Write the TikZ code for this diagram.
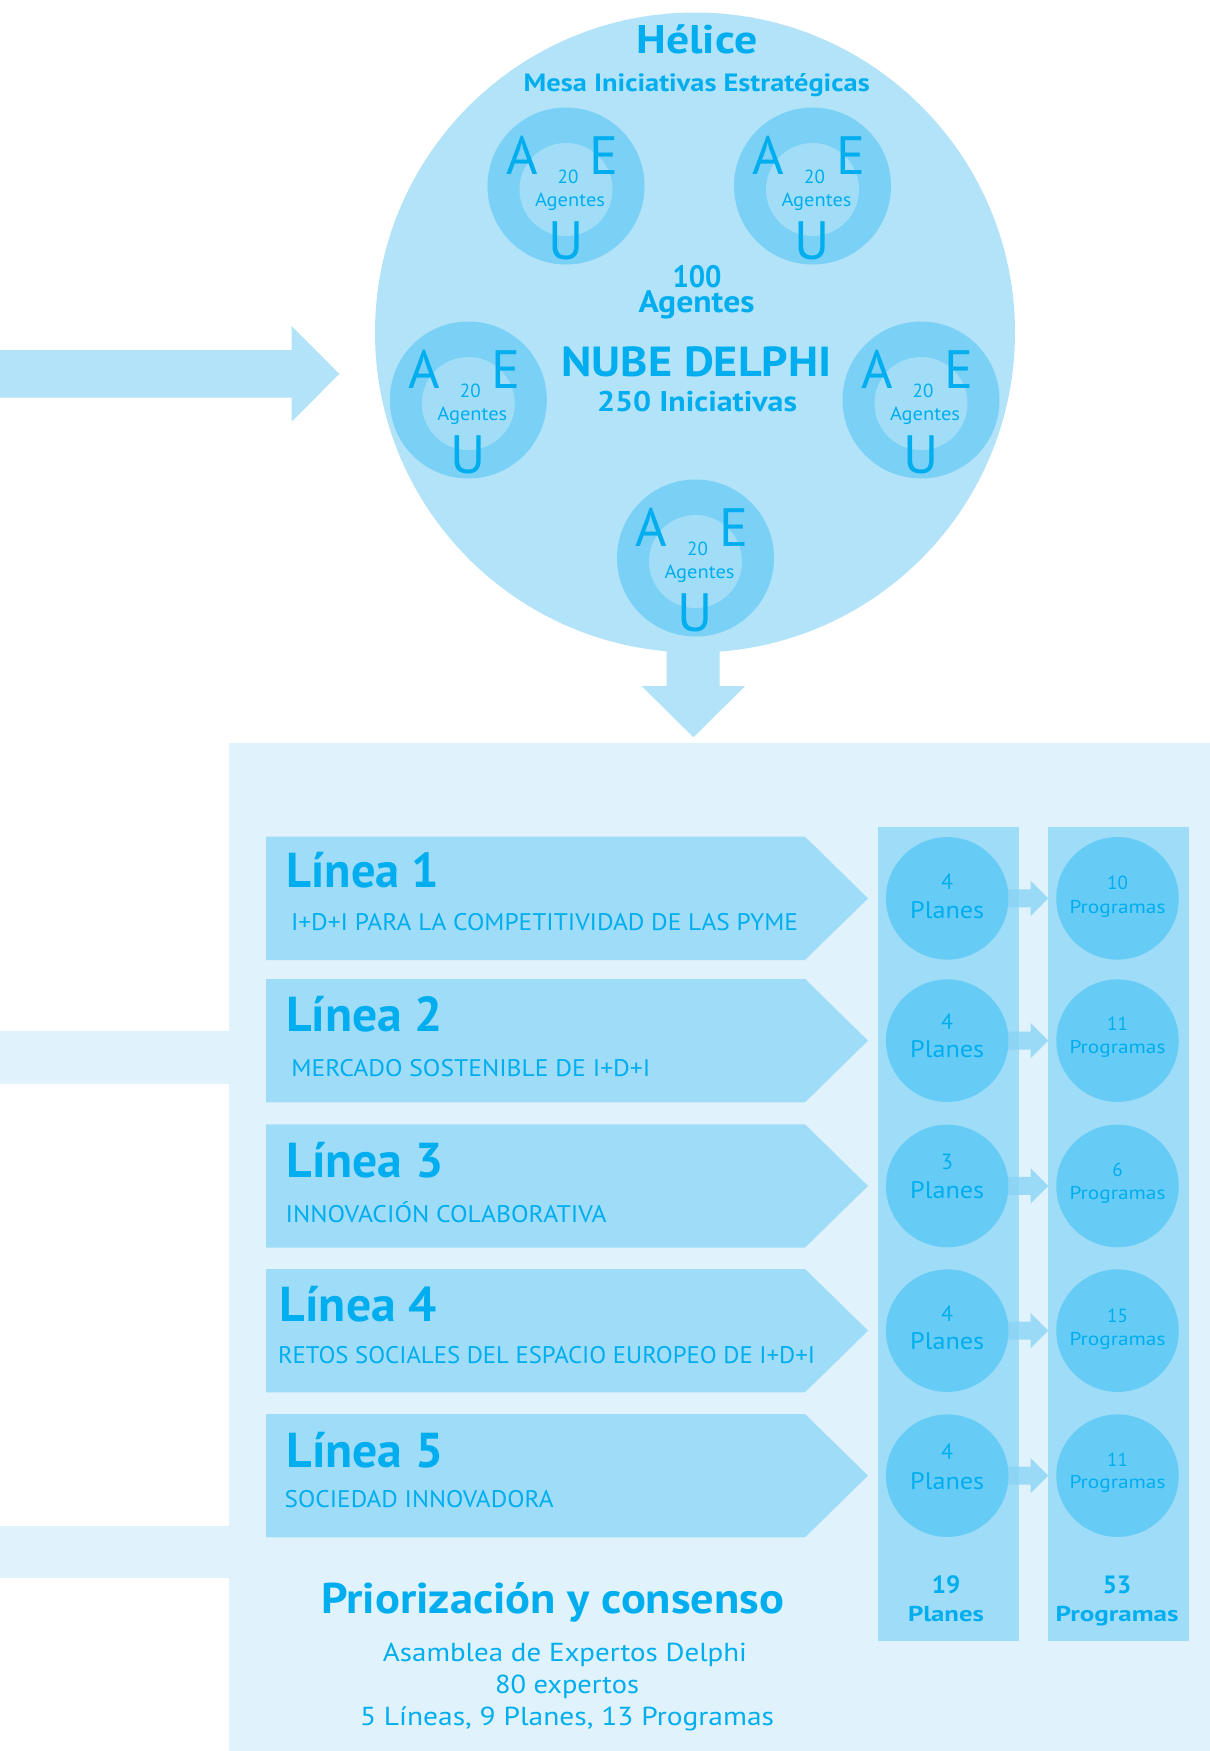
\documentclass[tikz,border=0pt]{standalone}
\usepackage{fontspec}
\setmainfont{PT Sans}
\usepackage{graphicx}
\definecolor{txtc}{HTML}{00AEEF}
\definecolor{bigc}{HTML}{B3E3F8}
\definecolor{ringc}{HTML}{7AD0F5}
\definecolor{innc}{HTML}{A2DDF7}
\definecolor{bgc}{HTML}{E0F2FB}
\definecolor{boxc}{HTML}{9EDCF7}
\definecolor{dotc}{HTML}{66CCF5}
\definecolor{arrc}{HTML}{8AD4F5}
\newcommand\fitw[2]{\resizebox{#1pt}{\height}{#2}}
\newcommand\fs[1]{\fontsize{#1}{#1}\selectfont}
\newcommand\ring[3]{%
  \node[ringnode] (#1) at (#2,#3) {};
  \node[innnode] (#1i) at (#2,#3+3.5) {};
  \node[t] (#1a) at (#2-44,#3-12) {\fs{54}A};
  \node[t] (#1e) at (#2+38,#3-12) {\fs{54}E};
  \node[t] (#1u) at (#2,#3+73.5) {\fs{54}U};
  \node[t] (#1n) at (#2+2,#3-3) {\fs{19}20};
  \node[t] (#1g) at (#2+4,#3+20.2) {\fs{19}\fitw{70}{Agentes}};
}
\begin{document}
\begin{tikzpicture}[x=1pt,y=-1pt,
  t/.style={inner sep=0,outer sep=0,text=txtc,anchor=base},
  tl/.style={t,anchor=base west},
  ringnode/.style={circle,fill=ringc,inner sep=0,minimum size=157pt},
  innnode/.style={circle,fill=innc,inner sep=0,minimum size=93pt},
  dot/.style={circle,fill=dotc,inner sep=0,minimum size=122.5pt},
  linebox/.style={fill=boxc},
  smallarrow/.style={fill=arrc,fill opacity=0.8}]
\useasboundingbox (0,0) rectangle (1210,1751);
\fill[white] (0,0) rectangle (1210,1751);

% arrow from the left into the circle
\fill[bigc] (0,350) -- (291.7,350) -- (291.7,326) -- (339.3,373.85) -- (291.7,421.7) -- (291.7,397.7) -- (0,397.7) -- cycle;
% arrow down
\fill[bigc] (666.5,600) -- (719.5,600) -- (719.5,686) -- (745.2,686) -- (693.4,737.3) -- (641.6,686) -- (666.5,686) -- cycle;

% big circle
\node[circle,fill=bigc,inner sep=0,minimum size=640pt] (big) at (695,332.5) {};
\ring{r1}{566}{186}
\ring{r2}{812.5}{186}
\ring{r3}{468.3}{400}
\ring{r4}{921}{400}
\ring{r5}{695.5}{558}

\node[t] (helice) at (697,53.3) {\fs{40}\bfseries\fitw{121}{Hélice}};
\node[t] (mesa) at (696.7,91.7) {\fs{25}\bfseries\fitw{346}{Mesa Iniciativas Estratégicas}};
\node[t] (cien) at (697,287.5) {\fs{31}\bfseries\fitw{49}{100}};
\node[t] (agt) at (696.5,312.5) {\fs{31}\bfseries\fitw{116}{Agentes}};
\node[t] (nube) at (696.5,376) {\fs{42}\bfseries\fitw{270}{NUBE DELPHI}};
\node[t] (ini) at (697,411.7) {\fs{28.5}\bfseries\fitw{200}{250 Iniciativas}};

% lower panel
\fill[bgc] (229,743.3) rectangle (1210,1751);
\fill[bgc] (0,1031) rectangle (229,1084);
\fill[bgc] (0,1526) rectangle (229,1578);
\fill[boxc] (877.7,826.7) rectangle (1018.7,1640.7);
\fill[boxc] (1047.7,826.7) rectangle (1188.5,1640.7);

% linea boxes
\foreach \T/\n in {836.7/1,979/2,1124.3/3,1269/4,1414/5}{
  \fill[linebox] (266,\T) coordinate (lb\n) -- (805,\T) -- (868,\T+61.65) coordinate (lt\n) -- (805,\T+123.3) -- (266,\T+123.3) -- cycle;
  \fill[smallarrow] (990,\T+61.65-9) -- (1030.7,\T+61.65-9) -- (1030.7,\T+61.65-17.5) -- (1048.3,\T+61.65) -- (1030.7,\T+61.65+17.5) -- (1030.7,\T+61.65+9) -- (990,\T+61.65+9) -- cycle;
  \node[dot] (pl\n) at (947.2,\T+61.65) {};
  \node[dot] (pg\n) at (1117.5,\T+61.65) {};
}

% linea texts
\node[tl] (t1) at (286.4,887.7) {\fs{49}\bfseries\fitw{153}{Línea 1}};
\node[tl] (s1) at (291,930) {\fs{24}\fitw{507}{I+D+I PARA LA COMPETITIVIDAD DE LAS PYME}};
\node[tl] (t2) at (286,1031.4) {\fs{49}\bfseries\fitw{157}{Línea 2}};
\node[tl] (s2) at (291.3,1076.8) {\fs{24}\fitw{359}{MERCADO SOSTENIBLE DE I+D+I}};
\node[tl] (t3) at (286.3,1177.5) {\fs{49}\bfseries\fitw{157}{Línea 3}};
\node[tl] (s3) at (285.7,1222.1) {\fs{24}\fitw{321}{INNOVACIÓN COLABORATIVA}};
\node[tl] (t4) at (279.7,1321.4) {\fs{49}\bfseries\fitw{157}{Línea 4}};
\node[tl] (s4) at (278,1363.2) {\fs{24}\fitw{537}{RETOS SOCIALES DEL ESPACIO EUROPEO DE I+D+I}};
\node[tl] (t5) at (286.3,1467.9) {\fs{49}\bfseries\fitw{157}{Línea 5}};
\node[tl] (s5) at (284.7,1507.1) {\fs{24}\fitw{269}{SOCIEDAD INNOVADORA}};

% circle texts
\foreach \n/\a/\pa/\pb/\b/\qa/\qb in {1/4/-8.7/20/10/-9/14.7, 2/4/-11/17.3/11/-10.3/13, 3/3/-16/13/6/-9.3/13.3, 4/4/-9/19.3/15/-8.4/15.3, 5/4/-16.4/13.6/11/-9/13}{
  \node[t] (pln\n) at ([yshift=-\pa pt]pl\n.center) {\fs{22}\a};
  \node[t] (plt\n) at ([yshift=-\pb pt]pl\n.center) {\fs{24}\fitw{74}{Planes}};
  \node[t] (pgn\n) at ([yshift=-\qa pt]pg\n.center) {\fs{19}\b};
  \node[t] (pgt\n) at ([yshift=-\qb pt]pg\n.center) {\fs{18.5}\fitw{96}{Programas}};
}

% totals
\node[t] (tot1) at (946,1593.3) {\fs{25}\bfseries 19};
\node[t] (tot1b) at (946,1621.7) {\fs{21.5}\bfseries\fitw{76}{Planes}};
\node[t] (tot2) at (1117,1593.3) {\fs{25}\bfseries 53};
\node[t] (tot2b) at (1117,1621.7) {\fs{21.5}\bfseries\fitw{123}{Programas}};

% bottom texts
\node[t] (prio) at (552.7,1613.3) {\fs{43}\bfseries\fitw{463}{Priorización y consenso}};
\node[t] (asam) at (565,1661.7) {\fs{26}\fitw{364}{Asamblea de Expertos Delphi}};
\node[t] (exp) at (567,1693.3) {\fs{26}\fitw{144}{80 expertos}};
\node[t] (sum) at (567,1725) {\fs{26}\fitw{414}{5 Líneas, 9 Planes, 13 Programas}};
\end{tikzpicture}
\end{document}
